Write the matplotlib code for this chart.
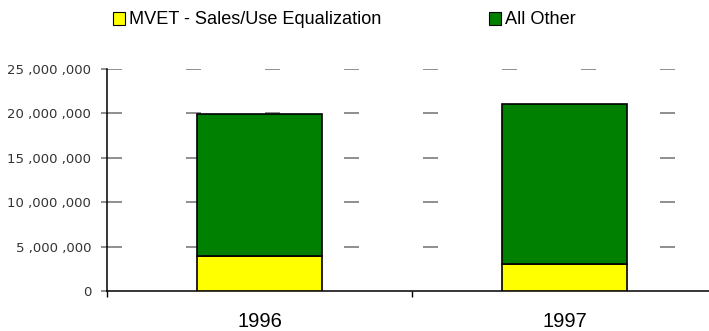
import matplotlib
matplotlib.use("Agg")
import matplotlib.pyplot as plt
from matplotlib.ticker import FuncFormatter, FixedLocator
from matplotlib.patches import Patch

years = ["1996", "1997"]
mvet = [3900000, 3000000]
all_other = [16050000, 18050000]
series_names = ["MVET - Sales/Use Equalization", "All Other"]
colors = ["#FFFF00", "#008000"]
yticks = [0, 5000000, 10000000, 15000000, 20000000, 25000000]

plt.rcParams['lines.scale_dashes'] = False
W, H = 709, 331
fig = plt.figure(figsize=(W/100, H/100), dpi=100)
left = 107/W
bottom = (H-291)/H
width = 610/W
height = (291-69)/H
ax = fig.add_axes([left, bottom, width, height])

x = list(range(len(years)))
bw = 0.41
ax.bar(x, mvet, width=bw, color=colors[0], edgecolor="black", linewidth=1.2, zorder=3)
ax.bar(x, all_other, width=bw, bottom=mvet, color=colors[1], edgecolor="black", linewidth=1.2, zorder=3)

ax.set_xlim(-0.5, 1.5)
ax.set_ylim(0, 25000000)
ax.set_yticks(yticks)
ax.yaxis.set_major_formatter(FuncFormatter(lambda v, p: "{:,}".format(int(v)).replace(",", " ,")))
ax.yaxis.grid(True, color="#707070", linewidth=1.1, linestyle=(0, (15*0.72, 64*0.72)), zorder=1)
ax.set_axisbelow(True)
ax.get_ygridlines()[0].set_visible(False)

ax.xaxis.set_major_locator(FixedLocator([-0.5, 0.5, 1.5]))
ax.xaxis.set_major_formatter(FuncFormatter(lambda v, p: ""))
ax.xaxis.set_minor_locator(FixedLocator(x))
ax.set_xticklabels(years, minor=True)
ax.tick_params(axis="x", which="major", length=4, width=1, color="black", direction="out")
ax.tick_params(axis="x", which="minor", length=0, pad=15, labelsize=14.5)
ax.tick_params(axis="y", length=4, width=1.1, color="#707070", pad=7.5, labelsize=9.5, labelcolor="#333333")
for lab in ax.get_xticklabels(minor=True):
    lab.set_fontfamily("Liberation Sans")
for lab in ax.get_yticklabels():
    lab.set_fontfamily("DejaVu Sans")

for s in ["top", "right"]:
    ax.spines[s].set_visible(False)
ax.spines["left"].set_linewidth(1.1)
ax.spines["bottom"].set_linewidth(1.1)

handles = [Patch(facecolor=colors[0], edgecolor="black", linewidth=0.8),
           Patch(facecolor=colors[1], edgecolor="black", linewidth=0.8)]
fig.legend(handles, series_names, loc="center left", bbox_to_anchor=(113/W, 1-20/H),
           ncol=2, frameon=False, handlelength=0.66, handleheight=0.7, handletextpad=0.22,
           columnspacing=5.9, prop={"family": "Liberation Sans", "size": 13.1}, borderaxespad=0, borderpad=0)

fig.savefig("out.png", dpi=100)
